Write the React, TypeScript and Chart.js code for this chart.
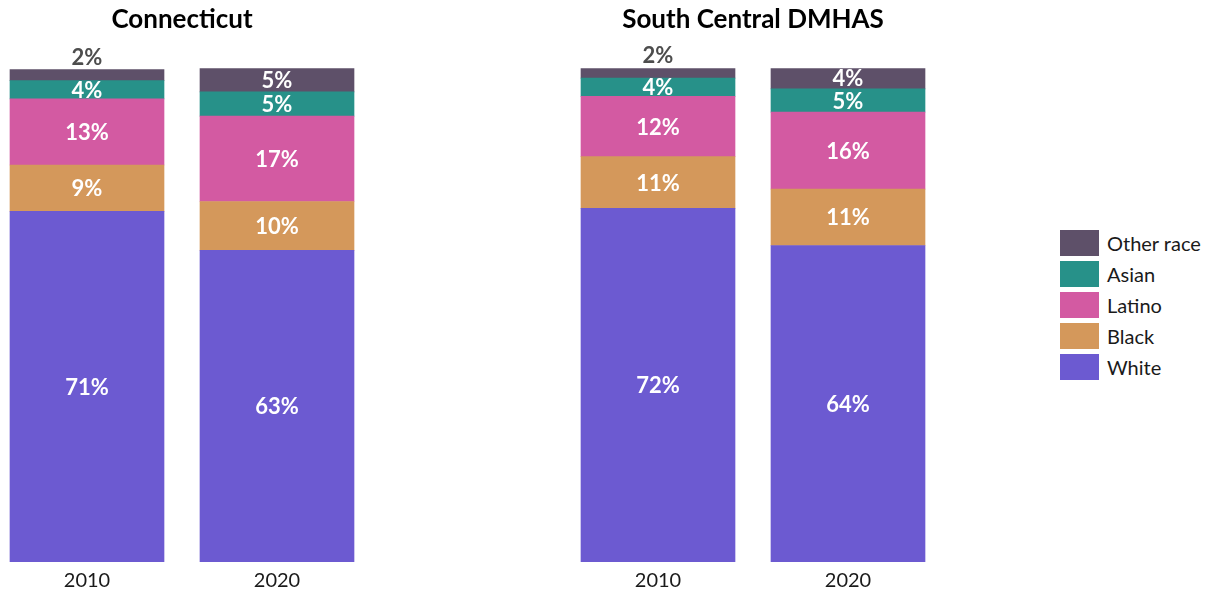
import React, { useEffect, useRef } from 'react';
import { Chart, registerables } from 'chart.js';

Chart.register(...registerables);

const years = ['2010', '2020'];
const regions = ['Connecticut', 'South Central DMHAS'];
const seriesNames = ['White', 'Black', 'Latino', 'Asian', 'Other race'];
const seriesColors = ['#6c5ad1', '#d4985b', '#d35aa2', '#279189', '#5e5069'];

const ctWhite = [71.0, 63.1];
const ctBlack = [9.4, 9.9];
const ctLatino = [13.4, 17.3];
const ctAsian = [3.7, 4.9];
const ctOther = [2.2, 4.9];

const scWhite = [71.6, 64.1];
const scBlack = [10.5, 11.4];
const scLatino = [12.2, 15.6];
const scAsian = [3.7, 4.7];
const scOther = [2.0, 4.3];

const FONT = 'Lato, "Noto Sans", sans-serif';

const labelPlugin = {
  id: 'segLabels',
  afterDatasetsDraw(chart: any) {
    const ctx = chart.ctx;
    ctx.save();
    ctx.textAlign = 'center';
    ctx.textBaseline = 'middle';
    ctx.font = `bold 22px ${FONT}`;
    chart.data.datasets.forEach((ds: any, di: number) => {
      const meta = chart.getDatasetMeta(di);
      meta.data.forEach((bar: any, i: number) => {
        const v = ds.data[i];
        const h = bar.base - bar.y;
        const txt = `${Math.round(v)}%`;
        if (h >= 14) {
          ctx.fillStyle = '#ffffff';
          ctx.fillText(txt, bar.x, (bar.y + bar.base) / 2 + 1);
        } else {
          ctx.fillStyle = '#4d4d4d';
          ctx.fillText(txt, bar.x, bar.y - 12);
        }
      });
    });
    ctx.restore();
  },
};

function Panel({ title, values, left }: { title: string; values: number[][]; left: number }) {
  const ref = useRef<HTMLCanvasElement>(null);
  useEffect(() => {
    if (!ref.current) return;
    const chart = new Chart(ref.current, {
      type: 'bar',
      data: {
        labels: years,
        datasets: seriesNames.map((name, k) => ({
          label: name,
          data: values[k],
          backgroundColor: seriesColors[k],
          borderWidth: 0,
          barThickness: 154,
        })),
      },
      options: {
        responsive: false,
        animation: false,
        devicePixelRatio: 1,
        layout: { padding: 0 },
        plugins: {
          legend: { display: false },
          tooltip: { enabled: false },
          title: {
            display: true,
            text: title,
            color: '#000000',
            font: { family: FONT, size: 26, weight: 'bold', lineHeight: 1.2 },
            padding: { top: 4, bottom: 33 },
          },
        },
        scales: {
          x: {
            stacked: true,
            grid: { display: false, drawTicks: false, tickLength: 0 },
            border: { display: false },
            ticks: { color: '#1a1a1a', font: { family: FONT, size: 20 }, padding: 7 },
          },
          y: {
            stacked: true,
            display: false,
            min: 0,
            max: 100,
          },
        },
      },
      plugins: [labelPlugin],
    });
    return () => chart.destroy();
  }, []);
  return (
    <canvas
      ref={ref}
      width={380}
      height={600}
      style={{ position: 'absolute', left, top: 0, width: 380, height: 600 }}
    />
  );
}

export default function App() {
  const legendOrder = [4, 3, 2, 1, 0];
  return (
    <div
      style={{
        position: 'fixed',
        left: 0,
        top: 0,
        width: 1211,
        height: 592,
        overflow: 'hidden',
        background: '#ffffff',
      }}
    >
      <Panel title={regions[0]} values={[ctWhite, ctBlack, ctLatino, ctAsian, ctOther]} left={-8} />
      <Panel title={regions[1]} values={[scWhite, scBlack, scLatino, scAsian, scOther]} left={563} />
      <div style={{ position: 'absolute', left: 1060, top: 230, fontFamily: FONT }}>
        {legendOrder.map((k) => (
          <div key={k} style={{ display: 'flex', alignItems: 'center', height: 26, marginBottom: 5 }}>
            <div style={{ width: 39, height: 26, background: seriesColors[k] }} />
            <span style={{ marginLeft: 8, fontSize: 20, color: '#1a1a1a', lineHeight: '26px' }}>
              {seriesNames[k]}
            </span>
          </div>
        ))}
      </div>
    </div>
  );
}
